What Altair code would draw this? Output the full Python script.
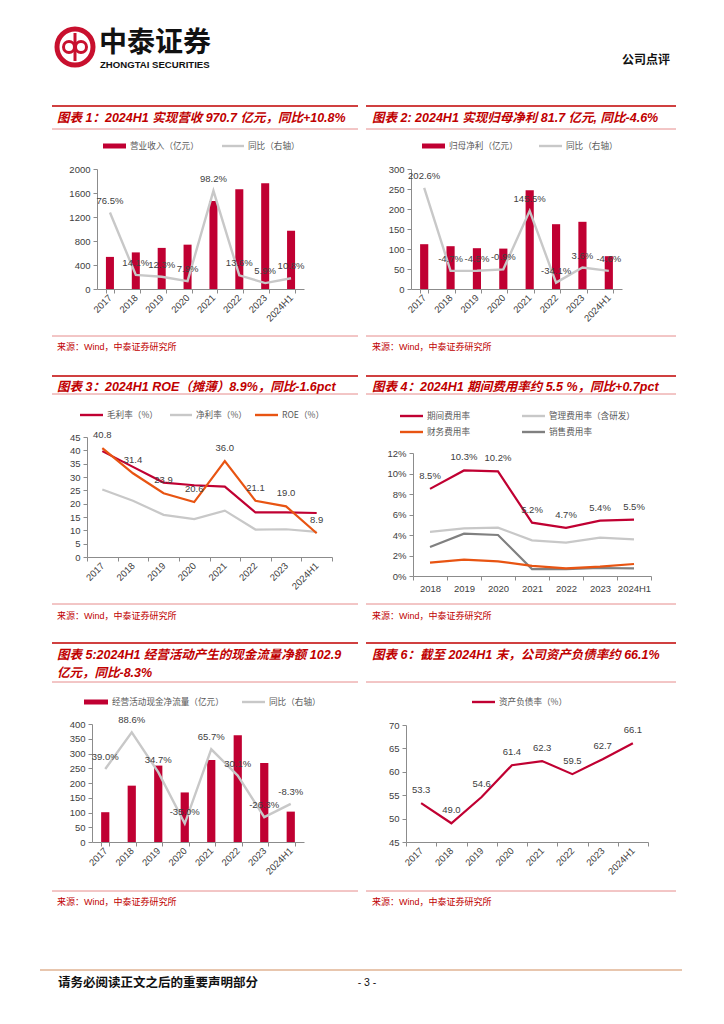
import altair as alt
import pandas as pd

# ---------------- data ----------------
years8 = ["2017", "2018", "2019", "2020", "2021", "2022", "2023", "2024H1"]
years7 = ["2018", "2019", "2020", "2021", "2022", "2023", "2024H1"]

revenue = [535, 610, 685, 739, 1465, 1664, 1762, 971]
revenue_yoy = [76.5, 14.1, 12.3, 7.9, 98.2, 13.6, 5.9, 10.8]

profit = [112, 107, 102, 101, 247, 162, 168, 82]
profit_yoy = [202.6, -4.7, -4.5, -0.9, 145.5, -34.1, 3.6, -4.6]

gross_margin = [39.7, 33.8, 27.9, 26.9, 26.4, 16.7, 16.7, 16.5]
net_margin = [25.3, 21.1, 15.8, 14.2, 17.4, 10.3, 10.4, 9.4]
roe = [40.8, 31.4, 23.9, 20.6, 36.0, 21.1, 19.0, 8.9]

exp_total = [8.5, 10.3, 10.2, 5.2, 4.7, 5.4, 5.5]
exp_admin = [4.30, 4.65, 4.72, 3.48, 3.25, 3.74, 3.58]
exp_fin = [1.30, 1.59, 1.43, 0.98, 0.75, 0.91, 1.17]
exp_sale = [2.83, 4.13, 4.00, 0.68, 0.68, 0.78, 0.75]

ocf = [101, 191, 259, 168, 278, 362, 268, 103]
ocf_yoy = [39.0, 88.6, 34.7, -35.0, 65.7, 30.1, -26.3, -8.3]

debt_ratio = [53.3, 49.0, 54.6, 61.4, 62.3, 59.5, 62.7, 66.1]

# ---------------- styles ----------------
CJK = "Noto Sans CJK SC"
NUM = "Liberation Sans"
MIX = "Liberation Sans, Noto Sans CJK SC"
RED = "#C00000"
CRIMSON = "#C00032"
ORANGE = "#E85412"
LGRAY = "#C8C8C8"
DGRAY = "#808080"
AX = "#8C8C8C"
LC = "#404040"
LEG = "#595959"
THIN = "#E07070"

W, H = 708, 1004          # whole page area (page minus 8px margin)


def X(px):
    return px - 8


def Y(py):
    return py - 8


ONE = pd.DataFrame({"k": [0]})


def text(s, x, y, size=9.0, color=LC, font=MIX, weight="normal", align="left", italic=False):
    props = dict(text=s, fontSize=size, color=color, font=font,
                 fontWeight=weight, align=align, baseline="middle")
    if italic:
        props["fontStyle"] = "italic"
    return alt.Chart(ONE).mark_text(**props).encode(x=alt.value(X(x)), y=alt.value(Y(y)))


def hline(x1, x2, y, color, w):
    return alt.Chart(ONE).mark_rule(color=color, strokeWidth=w).encode(
        x=alt.value(X(x1)), x2=alt.value(X(x2)), y=alt.value(Y(y)))


def vline(x, y1, y2, color, w):
    return alt.Chart(ONE).mark_rule(color=color, strokeWidth=w).encode(
        x=alt.value(X(x)), y=alt.value(Y(y1)), y2=alt.value(Y(y2)))


def rect(x1, x2, y1, y2, color):
    return alt.Chart(ONE).mark_rect(color=color).encode(
        x=alt.value(X(x1)), x2=alt.value(X(x2)), y=alt.value(Y(y1)), y2=alt.value(Y(y2)))


def ring(x, y, d, color, w):
    return alt.Chart(ONE).mark_point(shape="circle", filled=False, size=d * d,
                                     stroke=color, strokeWidth=w, opacity=1).encode(
        x=alt.value(X(x)), y=alt.value(Y(y)))


ROWS = {
    1: dict(top=106, title=[118], under=129, src=336, srct=347),
    2: dict(top=376, title=[387], under=394, src=604, srct=616),
    3: dict(top=643, title=[655, 673], under=682, src=891, srct=902),
}
COLS = {0: dict(rule=(52, 358), tx=57), 1: dict(rule=(366, 676), tx=372)}


def frame(row, col, titles):
    r, c = ROWS[row], COLS[col]
    x1, x2 = c["rule"]
    L = [hline(x1, x2, r["top"], RED, 1.6)]
    for t, ty in zip(titles, r["title"]):
        L.append(text(t, c["tx"], ty, size=12.5, color=RED, weight="bold", italic=True))
    L.append(hline(x1, x2, r["under"], THIN, 0.8))
    L.append(hline(x1, x2, r["src"], THIN, 0.8))
    L.append(text("来源：Wind，中泰证券研究所", c["tx"], r["srct"], size=9, color=RED))
    return L


def leg_bar(x1, x2, y, color, label):
    return [rect(x1, x2, y - 2.5, y + 2.5, color),
            text(label, x2 + 4, y, size=8.6, color=LEG, font=CJK)]


def leg_line(x1, x2, y, color, label):
    return [hline(x1, x2, y, color, 2.4),
            text(label, x2 + 4, y, size=8.6, color=LEG, font=CJK)]


def xaxis(angle, ybot):
    kw = dict(title=None, orient="bottom", offset=Y(ybot) - H, labelAngle=angle,
              tickBand="extent", domainColor=AX, tickColor=AX, tickSize=4,
              labelColor=LC, labelFont=NUM, labelFontSize=9.5, labelPadding=3,
              labelOverlap=False)
    if angle:
        kw.update(labelAlign="right", labelBaseline="middle")
    else:
        kw.update(labelAlign="center", labelBaseline="top")
    return alt.Axis(**kw)


def yaxis(values, orient, xpos, expr=None):
    off = -X(xpos) if orient == "left" else X(xpos) - W
    kw = dict(title=None, orient=orient, offset=off, values=values, grid=False,
              domainColor=AX, tickColor=AX, tickSize=4, labelColor=LC, labelFont=NUM,
              labelFontSize=9.5, labelPadding=3, format="d")
    if expr:
        kw["labelExpr"] = expr
    return alt.Axis(**kw)


def xenc(order, angle, bars, x0, x1, ybot):
    if bars:
        sc = alt.Scale(type="band", range=[X(x0), X(x1)], paddingInner=0.69, paddingOuter=0.345)
    else:
        sc = alt.Scale(type="band", range=[X(x0), X(x1)], paddingInner=0, paddingOuter=0)
    return alt.X("year:N", sort=order, scale=sc, axis=xaxis(angle, ybot))


def yscale(dom, ybot, ytop):
    return alt.Scale(domain=dom, range=[Y(ybot), Y(ytop)], nice=False, zero=False)


PCT = "datum.value + '%'"


def bar_line_panel(df, bar_col, ydom, yvals, line_col, y2dom, y2vals, box):
    x0, x1, ytop, ybot = box
    x = xenc(years8, 315, True, x0, x1, ybot)
    bars = alt.Chart(df).mark_bar(color=CRIMSON).encode(
        x=x, y=alt.Y(f"{bar_col}:Q", scale=yscale(ydom, ybot, ytop),
                     axis=yaxis(yvals, "left", x0)))
    y2 = yscale(y2dom, ybot, ytop)
    line = alt.Chart(df).mark_line(color=LGRAY, strokeWidth=2.4).encode(
        x=x, y=alt.Y(f"{line_col}:Q", scale=y2, axis=yaxis(y2vals, "right", x1, PCT)))
    labels = alt.Chart(df).mark_text(dy=-12, fontSize=9.5, color=LC, font=NUM).encode(
        x=x, y=alt.Y(f"{line_col}:Q", scale=y2, axis=None), text="lab:N")
    return alt.layer(bars, alt.layer(line, labels)).resolve_scale(y="independent")


def pct_labels(vals):
    return [f"{v:.1f}%" for v in vals]


def num_labels(vals):
    return [f"{v:.1f}" for v in vals]


layers = []

# ---------------- panel 1 ----------------
df1 = pd.DataFrame({"year": years8, "rev": revenue, "yoy": revenue_yoy,
                    "lab": pct_labels(revenue_yoy)})
layers.append(bar_line_panel(df1, "rev", [0, 2000], [0, 400, 800, 1200, 1600, 2000],
                             "yoy", [0, 120], [0, 20, 40, 60, 80, 100, 120],
                             (97, 304, 169, 289)))
layers += frame(1, 0, ["图表 1：2024H1 实现营收 970.7 亿元，同比+10.8%"])
layers += leg_bar(103, 126, 146, CRIMSON, "营业收入（亿元）")
layers += leg_line(222, 244, 146, LGRAY, "同比（右轴）")

# ---------------- panel 2 ----------------
df2 = pd.DataFrame({"year": years8, "np": profit, "yoy": profit_yoy,
                    "lab": pct_labels(profit_yoy)})
layers.append(bar_line_panel(df2, "np", [0, 300], [0, 50, 100, 150, 200, 250, 300],
                             "yoy", [-50, 250], [-50, 0, 50, 100, 150, 200, 250],
                             (411, 622, 169, 289)))
layers += frame(1, 1, ["图表 2: 2024H1 实现归母净利 81.7 亿元, 同比-4.6%"])
layers += leg_bar(422, 445, 146, CRIMSON, "归母净利（亿元）")
layers += leg_line(539, 562, 146, LGRAY, "同比（右轴）")

# ---------------- panel 3 ----------------
df3 = pd.DataFrame({"year": years8, "gm": gross_margin, "nm": net_margin, "roe": roe,
                    "lab": num_labels(roe)})
x3 = xenc(years8, 315, False, 87, 332, 557)
y3 = yscale([0, 45], 557, 437)
ya3 = yaxis([0, 5, 10, 15, 20, 25, 30, 35, 40, 45], "left", 87)
p3 = alt.layer(
    alt.Chart(df3).mark_line(color=LGRAY, strokeWidth=2.2).encode(
        x=x3, y=alt.Y("nm:Q", scale=y3, axis=ya3)),
    alt.Chart(df3).mark_line(color=CRIMSON, strokeWidth=2.2).encode(
        x=x3, y=alt.Y("gm:Q", scale=y3, axis=ya3)),
    alt.Chart(df3).mark_line(color=ORANGE, strokeWidth=2.2).encode(
        x=x3, y=alt.Y("roe:Q", scale=y3, axis=ya3)),
    alt.Chart(df3).mark_text(dy=-13, fontSize=9.5, color=LC, font=NUM).encode(
        x=x3, y=alt.Y("roe:Q", scale=y3, axis=ya3), text="lab:N"),
)
layers.append(p3)
layers += frame(2, 0, ["图表 3：2024H1 ROE（摊薄）8.9%，同比-1.6pct"])
layers += leg_line(80, 103, 415, CRIMSON, "毛利率（%）")
layers += leg_line(170, 192, 415, LGRAY, "净利率（%）")
layers += leg_line(255, 278, 415, ORANGE, "ROE（%）")

# ---------------- panel 4 ----------------
df4 = pd.DataFrame({"year": years7, "tot": exp_total, "adm": exp_admin,
                    "fin": exp_fin, "sale": exp_sale, "lab": pct_labels(exp_total)})
x4 = xenc(years7, 0, False, 413, 651, 576)
y4 = yscale([0, 12], 576, 453)
ya4 = yaxis([0, 2, 4, 6, 8, 10, 12], "left", 413, PCT)
l4 = [alt.Chart(df4).mark_line(color=c, strokeWidth=2.2).encode(
    x=x4, y=alt.Y(f"{col}:Q", scale=y4, axis=ya4))
    for col, c in [("adm", LGRAY), ("sale", DGRAY), ("fin", ORANGE), ("tot", CRIMSON)]]
t4 = alt.Chart(df4).mark_text(dy=-13, fontSize=9.5, color=LC, font=NUM).encode(
    x=x4, y=alt.Y("tot:Q", scale=y4, axis=ya4), text="lab:N")
layers.append(alt.layer(*l4, t4))
layers += frame(2, 1, ["图表 4：2024H1 期间费用率约 5.5 %，同比+0.7pct"])
layers += leg_line(400, 423, 416, CRIMSON, "期间费用率")
layers += leg_line(522, 545, 416, LGRAY, "管理费用率（含研发）")
layers += leg_line(400, 423, 432, ORANGE, "财务费用率")
layers += leg_line(522, 545, 432, DGRAY, "销售费用率")

# ---------------- panel 5 ----------------
df5 = pd.DataFrame({"year": years8, "ocf": ocf, "yoy": ocf_yoy,
                    "lab": pct_labels(ocf_yoy)})
layers.append(bar_line_panel(df5, "ocf", [0, 400], [0, 50, 100, 150, 200, 250, 300, 350, 400],
                             "yoy", [-60, 100], [-60, -40, -20, 0, 20, 40, 60, 80, 100],
                             (92, 304, 724, 842)))
layers += frame(3, 0, ["图表 5:2024H1 经营活动产生的现金流量净额 102.9", "亿元，同比-8.3%"])
layers += leg_bar(84, 108, 702, CRIMSON, "经营活动现金净流量（亿元）")
layers += leg_line(242, 265, 702, LGRAY, "同比（右轴）")

# ---------------- panel 6 ----------------
df6 = pd.DataFrame({"year": years8, "debt": debt_ratio, "lab": num_labels(debt_ratio)})
x6 = xenc(years8, 315, False, 406, 648, 842)
y6 = yscale([45, 70], 842, 725)
ya6 = yaxis([45, 50, 55, 60, 65, 70], "left", 406)
layers.append(alt.layer(
    alt.Chart(df6).mark_line(color=CRIMSON, strokeWidth=2.2).encode(
        x=x6, y=alt.Y("debt:Q", scale=y6, axis=ya6)),
    alt.Chart(df6).mark_text(dy=-13, fontSize=9.5, color=LC, font=NUM).encode(
        x=x6, y=alt.Y("debt:Q", scale=y6, axis=ya6), text="lab:N"),
))
layers += frame(3, 1, ["图表 6：截至 2024H1 末，公司资产负债率约 66.1%"])
layers += leg_line(472, 495, 702, CRIMSON, "资产负债率（%）")

# ---------------- header / footer ----------------
LOGO = "#C8102E"
layers += [
    ring(75, 47, 36, LOGO, 5),
    ring(69, 47, 11, LOGO, 3),
    ring(81, 47, 11, LOGO, 3),
    vline(75, 33, 61, LOGO, 3),
    text("中泰证券", 99, 44, size=28, color="#111111", font=CJK, weight="bold"),
    text("ZHONGTAI SECURITIES", 100, 64.5, size=9.6, color="#111111", font=NUM, weight="bold"),
    text("公司点评", 670, 60, size=12, color="#111111", font=CJK, weight="bold", align="right"),
    hline(40, 682, 970, "#E8C6AE", 2),
    text("请务必阅读正文之后的重要声明部分", 58, 983, size=12.5, color="#111111",
         font=CJK, weight="bold"),
    text("- 3 -", 367, 983, size=10.5, color="#111111", font=NUM, align="center"),
]

chart = alt.layer(*layers).resolve_scale(x="independent", y="independent").properties(
    width=W, height=H, padding=0, autosize=alt.AutoSizeParams(type="none")
).configure_view(strokeWidth=0)

chart.save("out.html", embed_options={"renderer": "svg", "actions": False})
